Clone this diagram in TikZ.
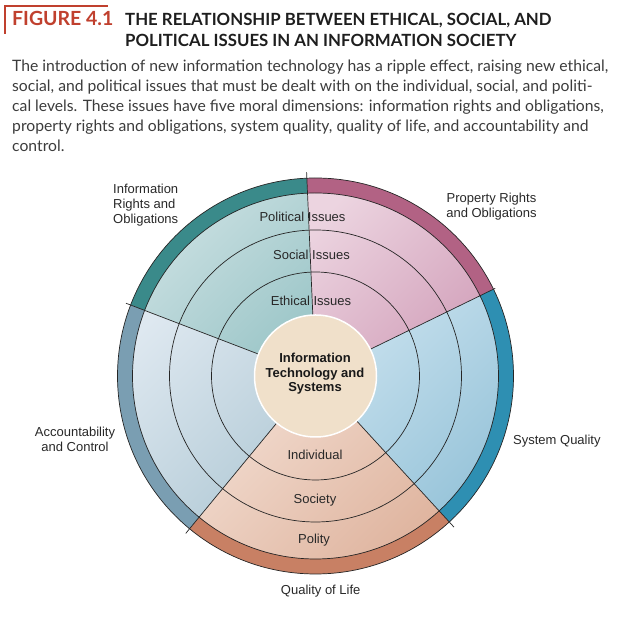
\documentclass[tikz,border=0pt]{standalone}
\usepackage{fontspec}
\setmainfont{Liberation Sans}
\newfontfamily\titlefont{Lato}
\definecolor{figred}{RGB}{192,64,46}
\definecolor{titleink}{RGB}{30,30,30}
\definecolor{bodyink}{RGB}{60,60,60}
\definecolor{labelink}{RGB}{40,40,40}
\definecolor{tealband}{RGB}{58,138,138}
\definecolor{teallight}{RGB}{206,226,228}
\definecolor{tealdark}{RGB}{156,198,200}
\definecolor{mauveband}{RGB}{178,98,132}
\definecolor{mauvelight}{RGB}{236,212,224}
\definecolor{mauvedark}{RGB}{210,160,186}
\definecolor{sysband}{RGB}{46,143,178}
\definecolor{syslight}{RGB}{200,225,238}
\definecolor{sysdark}{RGB}{148,194,216}
\definecolor{qolband}{RGB}{200,128,100}
\definecolor{qollight}{RGB}{242,220,208}
\definecolor{qoldark}{RGB}{222,178,156}
\definecolor{accband}{RGB}{122,158,178}
\definecolor{acclight}{RGB}{222,232,240}
\definecolor{accdark}{RGB}{178,202,214}
\definecolor{centerfill}{RGB}{240,224,202}
\newcommand\sectorpath[3]{(C) -- ([shift={(C)}]#1:#3) arc[start angle=#1,end angle=#2,radius=#3] -- cycle}
\newcommand\bandpath[2]{([shift={(C)}]#1:183) arc[start angle=#1,end angle=#2,radius=183] -- ([shift={(C)}]#2:198) arc[start angle=#2,end angle=#1,radius=198] -- cycle}
\begin{document}
\begin{tikzpicture}[x=1pt,y=1pt,
  thinline/.style={draw=black!85, line width=0.7pt},
  bodytext/.style={anchor=base west, inner sep=0, text=bodyink, font=\titlefont\fontsize{15.7}{20}\selectfont},
  titletext/.style={anchor=base west, inner sep=0, text=titleink, font=\titlefont\bfseries\fontsize{16.8}{20}\selectfont},
  ringlabel/.style={inner sep=0, text=labelink, font=\fontsize{13}{15}\selectfont},
  centertext/.style={inner sep=0, align=center, text=black!90, font=\bfseries\fontsize{13}{14.5}\selectfont}
]
\useasboundingbox (0,0) rectangle (625,617);
\coordinate (C) at (315.5,241);
% title
\draw[figred, line width=2.4pt] (5,583) |- (108,611);
\node[titletext, text=figred, font=\titlefont\bfseries\fontsize{19.5}{20}\selectfont] (fig) at (12,591) {FIGURE 4.1};
\node[titletext] (t1) at (125,591) {THE RELATIONSHIP BETWEEN ETHICAL, SOCIAL, AND};
\node[titletext] (t2) at (125,570) {POLITICAL ISSUES IN AN INFORMATION SOCIETY};
\node[bodytext] (b1) at (12,545) {The introduction of new information technology has a ripple effect, raising new ethical,};
\node[bodytext] (b2) at (12,525) {social, and political issues that must be dealt with on the individual, social, and politi-};
\node[bodytext] (b3) at (12,505) {cal levels. These issues have five moral dimensions: information rights and obligations,};
\node[bodytext] (b4) at (12,485) {property rights and obligations, system quality, quality of life, and accountability and};
\node[bodytext] (b5) at (12,465) {control.};
% sectors
\shade[top color=teallight, bottom color=tealdark, shading angle=45] \sectorpath{92.5}{159}{198};
\shade[top color=mauvelight, bottom color=mauvedark, shading angle=45] \sectorpath{26}{92.5}{198};
\shade[top color=syslight, bottom color=sysdark, shading angle=45] \sectorpath{-47.5}{26}{198};
\shade[top color=qollight, bottom color=qoldark, shading angle=45] \sectorpath{-129.5}{-47.5}{198};
\shade[top color=acclight, bottom color=accdark, shading angle=45] \sectorpath{159}{230.5}{198};
\fill[tealband] \bandpath{92.5}{159};
\fill[mauveband] \bandpath{26}{92.5};
\fill[sysband] \bandpath{-47.5}{26};
\fill[qolband] \bandpath{-129.5}{-47.5};
\fill[accband] \bandpath{159}{230.5};
% rings
\draw[thinline] (C) circle[radius=104];
\draw[thinline] (C) circle[radius=146];
\draw[thinline] (C) circle[radius=183];
\draw[thinline] (C) circle[radius=198];
% radial dividers
\foreach \a/\r in {92.5/204, 26/200, -47.5/205, -129.5/204, 159/203}
  \draw[thinline] ([shift={(C)}]\a:60) -- ([shift={(C)}]\a:\r);
% core
\node[circle, fill=centerfill, draw=white, line width=1.5pt, minimum size=122pt, inner sep=0] (core) at (C) {};
\node[centertext] (coretext) at (315,243) {Information\\Technology and\\Systems};
% ring labels
\node[ringlabel, anchor=base] (pol) at (302.5,395.5) {Political Issues};
\node[ringlabel, anchor=base] (soc) at (311.5,357) {Social Issues};
\node[ringlabel, anchor=base] (eth) at (311,311) {Ethical Issues};
\node[ringlabel, anchor=base] (ind) at (315,157) {Individual};
\node[ringlabel, anchor=base] (socy) at (315,113) {Society};
\node[ringlabel, anchor=base] (poly) at (314,73) {Polity};
% dimension labels
\node[ringlabel, anchor=base] (qol) at (320.7,22) {Quality of Life};
\node[ringlabel, anchor=base west] (sq) at (513,172) {System Quality};
\node[ringlabel, align=center] (acc) at (75,177.5) {Accountability\\and Control};
\node[ringlabel, align=center] (prop) at (491.5,410) {Property Rights\\and Obligations};
\node[ringlabel, align=left, anchor=west] (info) at (113,411.8) {Information\\Rights and\\Obligations};
\end{tikzpicture}
\end{document}
